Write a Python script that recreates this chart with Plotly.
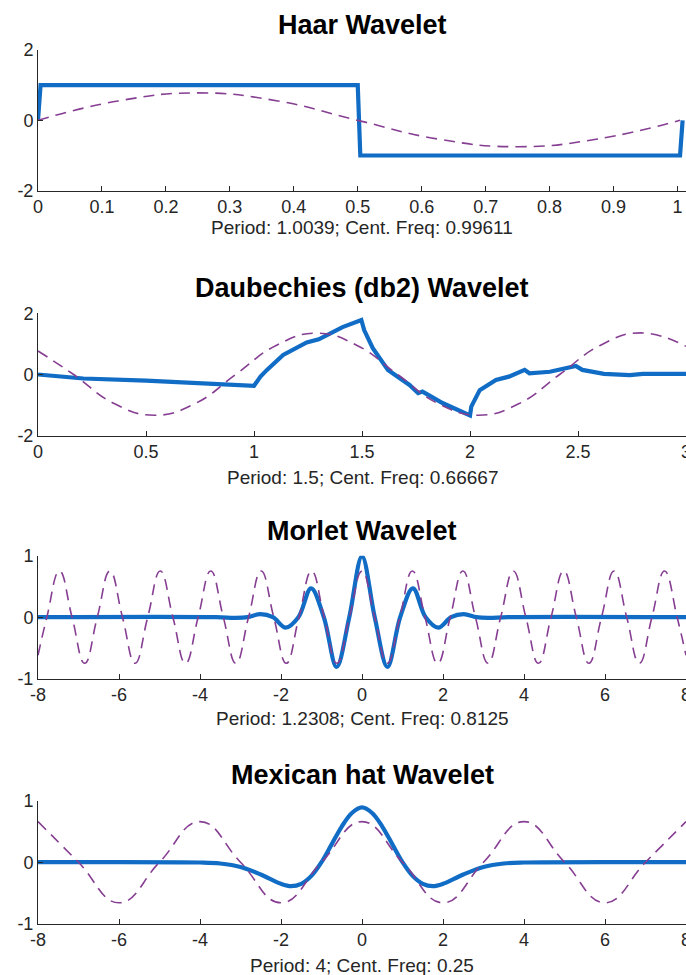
import plotly.graph_objects as go

# ---------------- data ----------------
titles = ["Haar Wavelet", "Daubechies (db2) Wavelet", "Morlet Wavelet", "Mexican hat Wavelet"]
subtitles = ["Period: 1.0039; Cent. Freq: 0.99611",
             "Period: 1.5; Cent. Freq: 0.66667",
             "Period: 1.2308; Cent. Freq: 0.8125",
             "Period: 4; Cent. Freq: 0.25"]

# Haar
haar_x = [0, 0.004, 0.5, 0.504, 1.004, 1.008]
haar_y = [0, 1, 1, -1, -1, 0]
haar_sin_x = [0, 0.125, 0.25, 0.375, 0.5, 0.625, 0.75, 0.875, 1.004]
haar_sin_y = [0, 0.55, 0.78, 0.55, 0, -0.53, -0.75, -0.53, 0]

# Daubechies db2
db2_x = [0, 0.21, 0.5, 0.75, 1.0, 1.03, 1.06, 1.135, 1.2, 1.244, 1.3, 1.366, 1.41, 1.497,
         1.51, 1.55, 1.62, 1.72, 1.76, 1.78, 1.875, 2.0, 2.006, 2.045, 2.12, 2.18, 2.253,
         2.275, 2.37, 2.49, 2.52, 2.62, 2.74, 2.80, 3.0]
db2_y = [0, -0.13, -0.20, -0.29, -0.37, -0.07, 0.15, 0.64, 0.88, 1.05, 1.15, 1.40, 1.55, 1.78,
         1.45, 0.86, 0.15, -0.34, -0.61, -0.56, -0.94, -1.34, -1.05, -0.51, -0.18, -0.07, 0.15,
         0.04, 0.09, 0.28, 0.15, 0.02, -0.02, 0.02, 0.02]
db2_sin_x = [0, 0.165, 0.3525, 0.54, 0.7275, 0.915, 1.1025, 1.29, 1.4775, 1.665, 1.8525,
             2.04, 2.2275, 2.415, 2.6025, 2.79, 3.0]
db2_sin_y = [0.77, 0, -0.95, -1.33, -0.95, 0, 0.95, 1.35, 0.95, 0, -0.95,
             -1.33, -0.95, 0, 0.95, 1.36, 0.92]

# Morlet
morl_x = [-8, -3.6, -3.14, -2.83, -2.51, -2.2, -1.885, -1.571, -1.257, -0.942, -0.628, -0.314,
          0, 0.314, 0.628, 0.942, 1.257, 1.571, 1.885, 2.2, 2.51, 2.83, 3.14, 3.6, 8]
morl_y = [0, 0, -0.01, 0, 0.05, 0, -0.17, 0, 0.47, 0, -0.81, 0,
          0.99, 0, -0.81, 0, 0.47, 0, -0.17, 0, 0.05, 0, -0.01, 0, 0]
morl_sin_x = [-8, -7.781, -7.47, -7.159, -6.848, -6.536, -6.225, -5.914, -5.603, -5.291,
              -4.98, -4.669, -4.358, -4.046, -3.735, -3.424, -3.113, -2.801, -2.49, -2.179,
              -1.868, -1.556, -1.245, -0.934, -0.623, -0.311, 0, 0.311, 0.623, 0.934, 1.245,
              1.556, 1.868, 2.179, 2.49, 2.801, 3.113, 3.424, 3.735, 4.046, 4.358, 4.669,
              4.98, 5.291, 5.603, 5.914, 6.225, 6.536, 6.848, 7.159, 7.47, 7.781, 8]
morl_sin_y = [-0.62, 0, 0.75, 0, -0.75, 0, 0.75, 0, -0.75, 0,
              0.75, 0, -0.75, 0, 0.75, 0, -0.75, 0, 0.75, 0,
              -0.75, 0, 0.75, 0, -0.75, 0, 0.75, 0, -0.75, 0, 0.75,
              0, -0.75, 0, 0.75, 0, -0.75, 0, 0.75, 0, -0.75, 0,
              0.75, 0, -0.75, 0, 0.75, 0, -0.75, 0, 0.75, 0, -0.62]

# Mexican hat
mex_x = [-8, -4, -3.5, -3, -2.5, -2, -1.75, -1.5, -1.25, -1, -0.75, -0.5, -0.25, 0,
         0.25, 0.5, 0.75, 1, 1.25, 1.5, 1.75, 2, 2.5, 3, 3.5, 4, 8]
mex_y = [0, -0.005, -0.021, -0.077, -0.20, -0.352, -0.39, -0.352, -0.223, 0, 0.29, 0.58, 0.80, 0.89,
         0.80, 0.58, 0.29, 0, -0.223, -0.352, -0.39, -0.352, -0.20, -0.077, -0.021, -0.005, 0]
mex_sin_x = [-8, -7, -6, -5, -4, -3, -2, -1, 0, 1, 2, 3, 4, 5, 6, 7, 8]
mex_sin_y = [0.66, 0, -0.66, 0, 0.66, 0, -0.66, 0, 0.66, 0, -0.66, 0, 0.66, 0, -0.66, 0, 0.66]

# axes ticks
haar_ticks = [0, 0.1, 0.2, 0.3, 0.4, 0.5, 0.6, 0.7, 0.8, 0.9, 1]
haar_ticklabels = ["0", "0.1", "0.2", "0.3", "0.4", "0.5", "0.6", "0.7", "0.8", "0.9", "1"]
db2_ticks = [0, 0.5, 1, 1.5, 2, 2.5, 3]
db2_ticklabels = ["0", "0.5", "1", "1.5", "2", "2.5", "3"]
sym_ticks = [-8, -6, -4, -2, 0, 2, 4, 6, 8]
sym_ticklabels = ["-8", "-6", "-4", "-2", "0", "2", "4", "6", "8"]
y2_ticks = [-2, 0, 2]
y2_ticklabels = ["-2", "0", "2"]
y1_ticks = [-1, 0, 1]
y1_ticklabels = ["-1", "0", "1"]

# ---------------- styling ----------------
W, H = 686, 975
BLUE = "rgb(16,108,196)"
PURPLE = "rgb(134,62,146)"
AX = "rgb(38,38,38)"
FONT = "Liberation Sans, Arial, sans-serif"

panels = [
    dict(wx=haar_x, wy=haar_y, sx=haar_sin_x, sy=haar_sin_y, xr=[0, 1.0133], yr=[-2, 2],
         xt=haar_ticks, xl=haar_ticklabels, yt=y2_ticks, yl=y2_ticklabels, top=50.0, bot=190.7,
         ty=25, sty=227, spline=False),
    dict(wx=db2_x, wy=db2_y, sx=db2_sin_x, sy=db2_sin_y, xr=[0, 3], yr=[-2, 2],
         xt=db2_ticks, xl=db2_ticklabels, yt=y2_ticks, yl=y2_ticklabels, top=313.3, bot=435.7,
         ty=288, sty=478, spline=False),
    dict(wx=morl_x, wy=morl_y, sx=morl_sin_x, sy=morl_sin_y, xr=[-8, 8], yr=[-1, 1],
         xt=sym_ticks, xl=sym_ticklabels, yt=y1_ticks, yl=y1_ticklabels, top=555.7, bot=678.7,
         ty=531, sty=718, spline=True),
    dict(wx=mex_x, wy=mex_y, sx=mex_sin_x, sy=mex_sin_y, xr=[-8, 8], yr=[-1, 1],
         xt=sym_ticks, xl=sym_ticklabels, yt=y1_ticks, yl=y1_ticklabels, top=800.7, bot=923.7,
         ty=775, sty=965, spline=True),
]

fig = go.Figure()
annotations = []
layout_axes = {}
for i, p in enumerate(panels):
    n = "" if i == 0 else str(i + 1)
    xa, ya = "x" + n, "y" + n
    fig.add_trace(go.Scatter(x=p["wx"], y=p["wy"], xaxis=xa, yaxis=ya, mode="lines",
                             line=dict(color=BLUE, width=4.2,
                                       shape="spline" if p["spline"] else "linear",
                                       smoothing=1.0),
                             showlegend=False, hoverinfo="skip"))
    fig.add_trace(go.Scatter(x=p["sx"], y=p["sy"], xaxis=xa, yaxis=ya, mode="lines",
                             line=dict(color=PURPLE, width=1.6, dash="11px,7px",
                                       shape="spline", smoothing=1.3),
                             showlegend=False, hoverinfo="skip"))
    dom = [1 - p["bot"] / H, 1 - p["top"] / H]
    layout_axes["xaxis" + n] = dict(
        domain=[0, 1], range=p["xr"], anchor=ya, tickmode="array", tickvals=p["xt"],
        ticktext=p["xl"], ticks="inside", ticklen=5, tickwidth=1, tickcolor=AX,
        showline=True, linecolor=AX, linewidth=1, showgrid=False, zeroline=False,
        mirror=False, ticklabeloverflow="allow", automargin=False,
        tickfont=dict(family=FONT, size=18, color=AX), fixedrange=True)
    layout_axes["yaxis" + n] = dict(
        domain=dom, range=p["yr"], anchor=xa, tickmode="array", tickvals=p["yt"],
        ticktext=p["yl"], ticks="inside", ticklen=5, tickwidth=1, tickcolor=AX,
        showline=True, linecolor=AX, linewidth=1, showgrid=False, zeroline=False,
        mirror=False, automargin=False,
        tickfont=dict(family=FONT, size=18, color=AX), fixedrange=True)
    annotations.append(dict(text="<b>%s</b>" % titles[i], xref="paper", yref="paper",
                            x=0.5, y=1 - p["ty"] / H, xanchor="center", yanchor="middle",
                            showarrow=False, font=dict(family=FONT, size=27, color="black")))
    annotations.append(dict(text=subtitles[i], xref="paper", yref="paper",
                            x=0.5, y=1 - p["sty"] / H, xanchor="center", yanchor="middle",
                            showarrow=False, font=dict(family=FONT, size=19, color=AX)))

fig.update_layout(width=W, height=H, margin=dict(l=38, r=0, t=0, b=0, autoexpand=False),
                  paper_bgcolor="white", plot_bgcolor="white",
                  annotations=annotations, **layout_axes)

fig.write_html("out.html")
